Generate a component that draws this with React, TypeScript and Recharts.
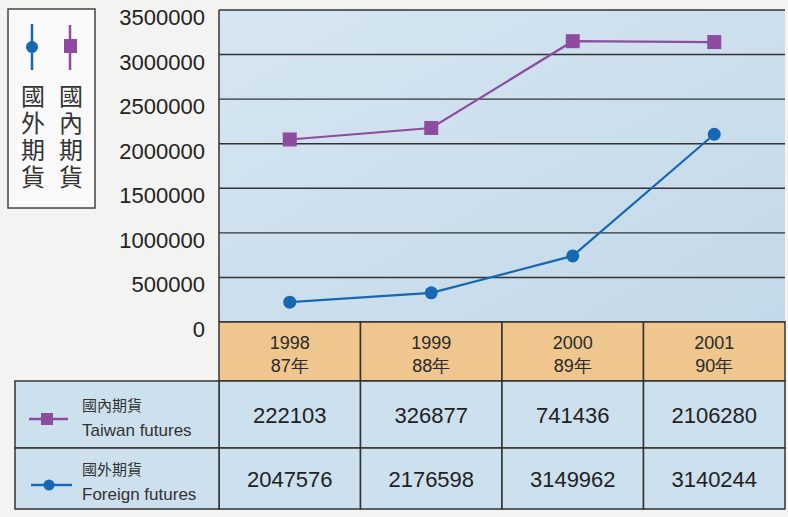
import React from 'react';
import { LineChart, Line, XAxis, YAxis, CartesianGrid } from 'recharts';

// ---- data ----
const years = ['1998', '1999', '2000', '2001'];
const rocYears = ['87年', '88年', '89年', '90年'];
// chart lines (as drawn)
const domesticLine = [2047576, 2176598, 3149962, 3140244]; // purple squares, 國內期貨
const foreignLine = [222103, 326877, 741436, 2106280]; // blue circles, 國外期貨
// table rows (as printed)
const tableRow1Label = ['國內期貨', 'Taiwan futures'];
const tableRow1 = [222103, 326877, 741436, 2106280];
const tableRow2Label = ['國外期貨', 'Foreign futures'];
const tableRow2 = [2047576, 2176598, 3149962, 3140244];
const yTicks = [0, 500000, 1000000, 1500000, 2000000, 2500000, 3000000, 3500000];
const legendLabels = ['國外期貨', '國內期貨'];

const data = years.map((y, i) => ({
  year: y,
  roc: rocYears[i],
  domestic: domesticLine[i],
  foreign: foreignLine[i],
  r1: tableRow1[i],
  r2: tableRow2[i],
}));

// ---- style constants ----
const W = 788;
const H = 517;
const PLOT_LEFT = 219;
const PLOT_RIGHT = 785;
const COL_W = (PLOT_RIGHT - PLOT_LEFT) / years.length;
const HDR_H = 59;
const R1_H = 67;
const R2_H = 61;
const PURPLE = '#8d4c9f';
const BLUE = '#1768b2';
const ORANGE = '#efc68d';
const CELL = '#cde0ee';
const BORDER = '#333';
const NUM_FONT = '"Liberation Sans", Arial, sans-serif';
const CJK_FONT = '"Noto Sans CJK TC", "Noto Sans CJK SC", sans-serif';

const HeaderTick = (props: any) => {
  const { x, y, index } = props;
  return (
    <g>
      <rect x={x - COL_W / 2} y={y} width={COL_W} height={HDR_H} fill={ORANGE} stroke={BORDER} strokeWidth={1.5} />
      <text x={x} y={y + 27} textAnchor="middle" fontSize={18} fill="#2a2a2a" fontFamily={NUM_FONT}>
        {years[index]}
      </text>
      <text x={x} y={y + 50} textAnchor="middle" fontSize={18} fill="#2a2a2a" fontFamily={NUM_FONT}>
        {rocYears[index]}
      </text>
    </g>
  );
};

const makeRowTick = (vals: number[], h: number) => (props: any) => {
  const { x, y, index } = props;
  return (
    <g>
      <rect x={x - COL_W / 2} y={y} width={COL_W} height={h} fill={CELL} stroke={BORDER} strokeWidth={1.5} />
      <text x={x} y={y + h / 2 + 8} textAnchor="middle" fontSize={22} fill="#222" fontFamily={NUM_FONT}>
        {vals[index]}
      </text>
    </g>
  );
};

const Row1Tick = makeRowTick(tableRow1, R1_H);
const Row2Tick = makeRowTick(tableRow2, R2_H);

const YTick = (props: any) => {
  const { x, y, payload } = props;
  return (
    <text x={x} y={y + 15} textAnchor="end" fontSize={22} fill="#222" fontFamily={NUM_FONT}>
      {payload.value}
    </text>
  );
};

const SquareDot = (props: any) => {
  const { cx, cy, index } = props;
  return <rect key={`sq-${index}`} x={cx - 7} y={cy - 7} width={14} height={14} fill={PURPLE} />;
};

const CircleDot = (props: any) => {
  const { cx, cy, index } = props;
  return <circle key={`ci-${index}`} cx={cx} cy={cy} r={6.5} fill={BLUE} />;
};

export default function App() {
  const tableTop = 10 + 312 + HDR_H;
  return (
    <div style={{ position: 'absolute', left: 0, top: 0, width: W, height: H, background: '#f3f3f1', overflow: 'hidden' }}>
      <LineChart width={W} height={H} data={data} margin={{ top: 10, right: W - PLOT_RIGHT, bottom: 8, left: 0 }}>
        <defs>
          <linearGradient id="plotBg" x1="0" y1="0" x2="1" y2="1">
            <stop offset="0%" stopColor="#d6e6f2" />
            <stop offset="100%" stopColor="#c3d8e8" />
          </linearGradient>
        </defs>
        <CartesianGrid vertical={false} stroke="#333" strokeWidth={1.4} fill="url(#plotBg)" fillOpacity={1} />
        <XAxis xAxisId="hdr" dataKey="year" scale="band" height={HDR_H} tickSize={0} tickMargin={0} axisLine={false} tickLine={false} tick={<HeaderTick />} interval={0} />
        <XAxis xAxisId="r1" dataKey="year" scale="band" height={R1_H} tickSize={0} tickMargin={0} axisLine={false} tickLine={false} tick={<Row1Tick />} interval={0} />
        <XAxis xAxisId="r2" dataKey="year" scale="band" height={R2_H} tickSize={0} tickMargin={0} axisLine={false} tickLine={false} tick={<Row2Tick />} interval={0} />
        <YAxis width={PLOT_LEFT} domain={[0, 3500000]} ticks={yTicks} interval={0} tickSize={0} tickMargin={14} axisLine={{ stroke: BORDER, strokeWidth: 1.5 }} tickLine={false} tick={<YTick />} />
        <Line xAxisId="hdr" dataKey="domestic" stroke={PURPLE} strokeWidth={2.2} dot={<SquareDot />} isAnimationActive={false} />
        <Line xAxisId="hdr" dataKey="foreign" stroke={BLUE} strokeWidth={2.2} dot={<CircleDot />} isAnimationActive={false} />
      </LineChart>
      <svg width={W} height={H} style={{ position: 'absolute', left: 0, top: 0, pointerEvents: 'none' }}>
        {/* legend box */}
        <rect x={8} y={9} width={87} height={199} fill="#fafafa" stroke="#444" strokeWidth={1.5} />
        <line x1={32} y1={24} x2={32} y2={70} stroke={BLUE} strokeWidth={2.5} />
        <circle cx={32} cy={47} r={6} fill={BLUE} />
        <line x1={70} y1={25} x2={70} y2={70} stroke={PURPLE} strokeWidth={2.5} />
        <rect x={64} y={39} width={13} height={14} fill={PURPLE} />
        {legendLabels.map((lab, j) => (
          <text
            key={`lg-${j}`}
            x={j === 0 ? 33 : 71}
            y={84}
            fontSize={24}
            letterSpacing={3}
            fill="#333"
            fontFamily={CJK_FONT}
            style={{ writingMode: 'vertical-rl' as any }}
          >
            {lab}
          </text>
        ))}
        {/* table row labels */}
        <rect x={15} y={tableTop} width={PLOT_LEFT - 15} height={R1_H} fill={CELL} stroke={BORDER} strokeWidth={1.5} />
        <rect x={15} y={tableTop + R1_H} width={PLOT_LEFT - 15} height={R2_H} fill={CELL} stroke={BORDER} strokeWidth={1.5} />
        <line x1={29} y1={tableTop + 38} x2={68} y2={tableTop + 38} stroke={PURPLE} strokeWidth={2.5} />
        <rect x={41} y={tableTop + 32} width={12} height={12} fill={PURPLE} />
        <text x={82} y={tableTop + 30} fontSize={15} fill="#333" fontFamily={CJK_FONT}>{tableRow1Label[0]}</text>
        <text x={82} y={tableTop + 55} fontSize={17} fill="#333" fontFamily={NUM_FONT}>{tableRow1Label[1]}</text>
        <line x1={31} y1={tableTop + R1_H + 37} x2={72} y2={tableTop + R1_H + 37} stroke={BLUE} strokeWidth={2.5} />
        <circle cx={49} cy={tableTop + R1_H + 37} r={5.5} fill={BLUE} />
        <text x={82} y={tableTop + R1_H + 27} fontSize={15} fill="#333" fontFamily={CJK_FONT}>{tableRow2Label[0]}</text>
        <text x={82} y={tableTop + R1_H + 52} fontSize={17} fill="#333" fontFamily={NUM_FONT}>{tableRow2Label[1]}</text>
      </svg>
    </div>
  );
}
